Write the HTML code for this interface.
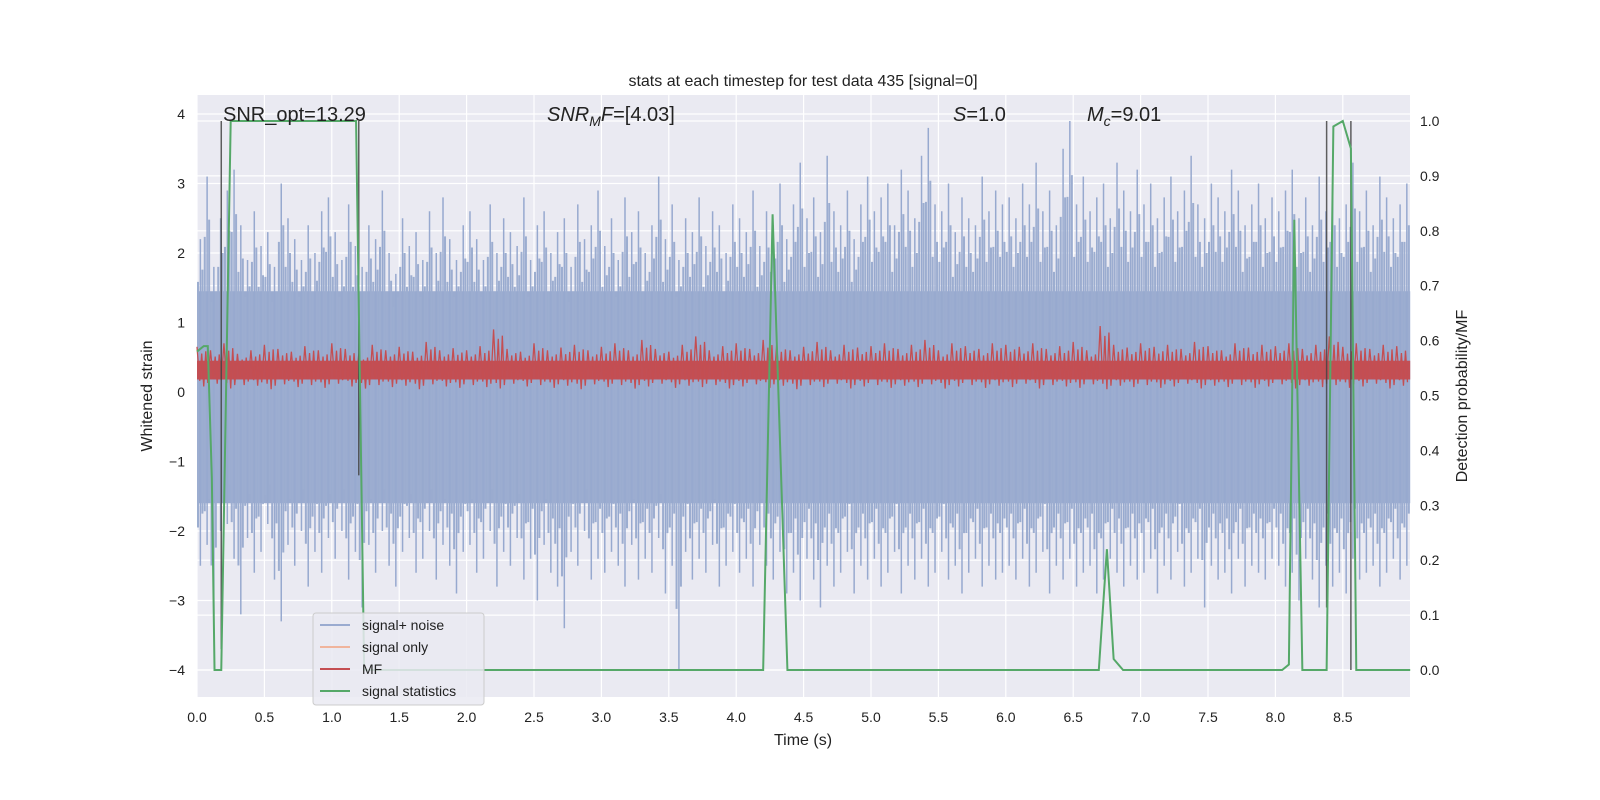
<!DOCTYPE html>
<html><head><meta charset="utf-8">
<style>
html,body{margin:0;padding:0;background:#fff;}
svg{display:block;font-family:"Liberation Sans","DejaVu Sans",sans-serif;}
</style></head>
<body>
<svg id="chart" width="1600" height="800" viewBox="0 0 1600 800">
  <rect x="197" y="95" width="1213" height="602" fill="#eaeaf2"/>
  <g id="grid"></g>
  <g id="series"></g>
  <g id="axes"></g>
  <text x="803" y="86" text-anchor="middle" font-size="16" fill="#222">stats at each timestep for test data 435 [signal=0]</text>
  <text x="803" y="745" text-anchor="middle" font-size="16" fill="#222">Time (s)</text>
  <text x="152" y="396" text-anchor="middle" font-size="16" fill="#222" transform="rotate(-90 152 396)">Whitened strain</text>
  <text x="1467" y="396" text-anchor="middle" font-size="16" fill="#222" transform="rotate(-90 1467 396)">Detection probability/MF</text>
  <text x="223" y="121" font-size="20" fill="#222">SNR_opt=13.29</text>
  <text x="547" y="121" font-size="20" fill="#222"><tspan font-style="italic">SNR</tspan><tspan font-style="italic" font-size="14" dy="5">M</tspan><tspan font-style="italic" dy="-5">F</tspan>=[4.03]</text>
  <text x="953" y="121" font-size="20" fill="#222"><tspan font-style="italic">S</tspan>=1.0</text>
  <text x="1087" y="121" font-size="20" fill="#222"><tspan font-style="italic">M</tspan><tspan font-style="italic" font-size="14" dy="5">c</tspan><tspan dy="-5">=9.01</tspan></text>
  <g>
    <rect x="313" y="613" width="171" height="92" rx="3" fill="#eaeaf2" fill-opacity="0.85" stroke="#ccc"/>
    <g><line x1="320" y1="625" x2="350" y2="625" stroke="#9aabd0" stroke-width="2"/><text x="362" y="630" font-size="14" fill="#222">signal+ noise</text></g>
    <g><line x1="320" y1="647" x2="350" y2="647" stroke="#f0b49c" stroke-width="2"/><text x="362" y="652" font-size="14" fill="#222">signal only</text></g>
    <g><line x1="320" y1="669" x2="350" y2="669" stroke="#c44e52" stroke-width="2"/><text x="362" y="674" font-size="14" fill="#222">MF</text></g>
    <g><line x1="320" y1="691" x2="350" y2="691" stroke="#55a868" stroke-width="2"/><text x="362" y="696" font-size="14" fill="#222">signal statistics</text></g>
  </g>
</svg>
<script>
const xTicks=[0,0.5,1,1.5,2,2.5,3,3.5,4,4.5,5,5.5,6,6.5,7,7.5,8,8.5];
const yTicks=[-4,-3,-2,-1,0,1,2,3,4];
const rTicks=[0,0.1,0.2,0.3,0.4,0.5,0.6,0.7,0.8,0.9,1.0];
const noiseHigh=[2.2,3.1,1.8,2.5,2.9,3.2,2.4,1.9,2.6,2.1,2.3,1.8,3.0,2.5,2.2,1.9,2.4,2.0,2.6,2.8,
2.3,1.9,2.7,2.1,1.8,2.4,2.2,2.9,2.0,1.7,2.5,2.1,2.3,1.9,2.6,2.0,2.8,2.2,1.9,2.4,
2.6,2.2,1.9,2.7,2.0,2.5,2.3,2.1,2.8,1.9,2.4,2.6,2.0,2.3,2.5,1.8,2.7,2.2,2.4,2.9,
2.1,2.5,1.9,2.8,2.3,2.6,2.0,2.4,3.1,2.2,2.7,1.9,2.5,2.3,2.8,2.1,2.6,2.4,2.0,2.7,
2.5,2.3,2.9,2.1,2.6,2.4,3.0,2.2,2.7,3.3,2.5,2.8,2.3,3.4,2.6,2.4,2.9,2.2,2.7,3.1,
2.6,2.8,3.0,2.4,3.2,2.9,2.5,3.4,3.8,2.7,2.6,3.0,2.3,2.8,2.5,2.4,3.1,2.6,2.9,2.7,
2.8,2.5,3.0,2.7,3.3,2.6,2.9,2.4,3.5,3.9,2.7,3.1,2.6,2.8,3.0,2.5,3.3,2.9,2.6,3.2,
2.7,3.0,2.5,2.8,3.1,2.6,2.9,3.4,2.7,2.5,3.0,2.8,2.6,3.2,2.9,2.4,2.7,3.0,2.5,2.8,
2.6,2.9,3.2,2.5,2.8,2.4,3.1,2.6,3.0,2.5,2.7,3.3,2.6,2.9,2.4,3.1,2.8,2.5,2.7,3.0];
const noiseLow=[-2.5,-2.2,-3.2,-2.0,-1.9,-2.4,-3.2,-2.1,-2.6,-2.3,-1.9,-2.7,-3.3,-2.2,-2.5,-2.0,-2.8,-2.3,-2.6,-2.1,
-2.4,-2.0,-2.7,-2.3,-3.1,-2.2,-2.6,-2.0,-2.5,-2.8,-2.3,-2.1,-2.6,-2.4,-2.0,-2.7,-2.2,-2.5,-2.9,-2.3,
-2.2,-2.6,-2.4,-2.0,-2.8,-2.3,-2.5,-2.1,-2.7,-2.4,-3.0,-2.2,-2.6,-2.8,-3.4,-2.3,-2.5,-2.0,-2.7,-2.4,
-2.6,-2.3,-2.5,-2.8,-2.2,-2.7,-2.4,-2.6,-2.1,-2.9,-2.5,-4.0,-2.3,-2.7,-2.4,-2.6,-2.2,-2.8,-2.5,-2.3,
-2.6,-2.4,-2.8,-2.2,-2.5,-2.7,-2.3,-2.9,-2.6,-3.0,-2.4,-2.7,-3.1,-2.5,-2.8,-2.6,-2.3,-2.9,-2.5,-2.7,
-2.4,-2.8,-2.6,-2.3,-2.9,-2.5,-2.7,-2.4,-2.8,-2.6,-2.3,-2.7,-2.5,-2.9,-2.6,-2.4,-2.8,-2.5,-2.7,-2.6,
-2.5,-2.7,-2.4,-2.8,-2.6,-2.3,-2.9,-2.5,-2.7,-2.4,-2.8,-2.6,-2.5,-2.9,-2.7,-2.4,-2.6,-2.8,-2.5,-2.7,
-2.6,-2.4,-2.9,-2.5,-2.7,-2.3,-2.8,-2.6,-2.4,-3.1,-2.5,-2.7,-2.6,-2.9,-2.4,-2.8,-2.5,-2.6,-2.7,-2.4,
-2.5,-2.8,-2.6,-3.0,-2.4,-2.7,-3.1,-2.5,-2.8,-2.6,-2.9,-2.4,-2.7,-2.6,-2.5,-2.8,-2.6,-2.4,-2.7,-2.5];
const noiseCore=[-1.6,1.45];
const mfHigh=[0.65,0.6,0.7,0.55,0.6,0.68,0.62,0.58,0.66,0.6,0.7,0.62,0.55,0.68,0.6,0.65,0.58,0.72,0.6,0.63,
0.6,0.66,0.9,0.62,0.58,0.7,0.6,0.64,0.68,0.6,0.65,0.7,0.6,0.75,0.62,0.58,0.68,0.8,0.6,0.66,
0.7,0.62,0.75,0.68,0.6,0.65,0.72,0.6,0.68,0.64,0.66,0.7,0.62,0.68,0.75,0.6,0.7,0.66,0.62,0.7,
0.68,0.65,0.7,0.62,0.66,0.72,0.6,0.95,0.68,0.64,0.7,0.65,0.68,0.62,0.72,0.66,0.6,0.7,0.64,0.68,
0.66,0.7,0.62,0.68,0.8,0.65,0.7,0.62,0.68,0.66];
const mfLow=[0.08,0.12,0.05,0.1,0.09,0.04,0.11,0.07,0.1,0.06,0.12,0.08,0.05,0.1,0.07,0.09,0.04,0.11,0.08,0.06,
0.1,0.07,0.05,0.12,0.08,0.1,0.06,0.09,0.04,0.11,0.07,0.1,0.05,0.08,0.12,0.06,0.09,0.07,0.1,0.05,
0.08,0.11,0.06,0.09,0.04,0.1,0.07,0.12,0.05,0.08,0.1,0.06,0.09,0.07,0.11,0.05,0.08,0.1,0.06,0.09,
0.07,0.12,0.05,0.1,0.08,0.06,0.11,0.04,0.09,0.07,0.1,0.06,0.08,0.12,0.05,0.09,0.07,0.1,0.06,0.08,
0.11,0.05,0.09,0.07,0.1,0.06,0.08,0.12,0.05,0.09];
const mfCore=[0.18,0.45];
const statTimes=[0,0.05,0.08,0.11,0.13,0.18,0.25,1.18,1.24,4.2,4.27,4.38,6.69,6.75,6.8,6.87,8.05,8.1,8.14,8.2,8.38,8.43,8.5,8.56,8.6,9.0];
const statVals=[0.58,0.59,0.59,0.35,0,0,1.0,1.0,0,0,0.83,0,0,0.22,0.02,0,0,0.01,0.82,0,0,0.99,1.0,0.95,0,0];
const vlineTimes=[0.18,1.2,8.38,8.56];
const vlineTops=[3.9,3.9,3.9,3.9];
const vlineBottoms=[-3.7,-1.2,-3.1,-4.0];

const NS="http://www.w3.org/2000/svg";
const X0=197,PXS=134.8;
const sx=t=>X0+t*PXS;
const sy=v=>392-v*69.5;
const sr=p=>670-p*549;
function mk(tag,attrs,parent){const e=document.createElementNS(NS,tag);for(const k in attrs)e.setAttribute(k,attrs[k]);parent.appendChild(e);return e;}
const grid=document.getElementById('grid'),series=document.getElementById('series'),axes=document.getElementById('axes');

xTicks.forEach(t=>{
  const l=mk('line',{x1:sx(t),x2:sx(t),y1:95,y2:697,stroke:'#fff','stroke-width':1.2},grid);
  
  
  const tx=mk('text',{x:sx(t),y:722,'text-anchor':'middle','font-size':14,fill:'#222'},axes);
  tx.textContent=t.toFixed(1);
  
  
});
yTicks.forEach(v=>{
  const l=mk('line',{x1:197,x2:1410,y1:sy(v),y2:sy(v),stroke:'#fff','stroke-width':1.2},grid);
  
  
  const tx=mk('text',{x:185,y:sy(v)+5,'text-anchor':'end','font-size':14,fill:'#222'},axes);
  tx.textContent=(v<0?'\u2212'+(-v):String(v));
  
  
});
rTicks.forEach(p=>{
  const l=mk('line',{x1:197,x2:1410,y1:sr(p),y2:sr(p),stroke:'#fff','stroke-width':1.2},grid);
  
  
  const tx=mk('text',{x:1420,y:sr(p)+5,'text-anchor':'start','font-size':14,fill:'#222'},axes);
  tx.textContent=p.toFixed(1);
  
  
});

// noise
const nStep=9/noiseHigh.length;
const core=mk('rect',{x:sx(0),y:sy(noiseCore[1]),width:sx(9)-sx(0),height:sy(noiseCore[0])-sy(noiseCore[1]),fill:'#9aabcf'},series);


noiseHigh.forEach((h,i)=>{
  const t=(i+0.5)*nStep;
  const lo=noiseLow[i];
  const l=mk('line',{x1:sx(t),x2:sx(t),y1:sy(h),y2:sy(lo),stroke:'#97a9cf','stroke-width':1.5},series);
  
  
  const t2=(i+0.15)*nStep;
  const l2=mk('line',{x1:sx(t2),x2:sx(t2),y1:sy(h*0.72),y2:sy(lo*0.78),stroke:'#9cadd0','stroke-width':2},series);
  
  
  const t3=(i+0.8)*nStep;
  const l3=mk('line',{x1:sx(t3),x2:sx(t3),y1:sy(h*0.8),y2:sy(lo*0.7),stroke:'#9cadd0','stroke-width':2},series);
  
  
});
// MF
const mStep=9/mfHigh.length;
const mc=mk('rect',{x:sx(0),y:sy(mfCore[1]),width:sx(9)-sx(0),height:sy(mfCore[0])-sy(mfCore[1]),fill:'#c24f55'},series);


let mpts=[];
mfHigh.forEach((h,i)=>{
  const lo=mfLow[i];
  mpts.push(sx(i*mStep)+','+sy(h));
  mpts.push(sx((i+0.2)*mStep)+','+sy(lo+0.08));
  mpts.push(sx((i+0.35)*mStep)+','+sy(h*0.85));
  mpts.push(sx((i+0.5)*mStep)+','+sy(lo));
  mpts.push(sx((i+0.65)*mStep)+','+sy(h*0.9));
  mpts.push(sx((i+0.8)*mStep)+','+sy(lo+0.05));
});
const mfl=mk('polyline',{points:mpts.join(' '),fill:'none',stroke:'#c44e52','stroke-width':1.3},series);


// vertical lines
vlineTimes.forEach((t,i)=>{
  const l=mk('line',{x1:sx(t),x2:sx(t),y1:sy(vlineTops[i]),y2:sy(vlineBottoms[i]),stroke:'#444','stroke-width':1.5,'stroke-opacity':0.85},series);
  
  
});
// signal statistics
const spts=statTimes.map((t,i)=>sx(t)+','+sr(statVals[i])).join(' ');
const sl=mk('polyline',{points:spts,fill:'none',stroke:'#55a868','stroke-width':2},series);


</script>
</body></html>
